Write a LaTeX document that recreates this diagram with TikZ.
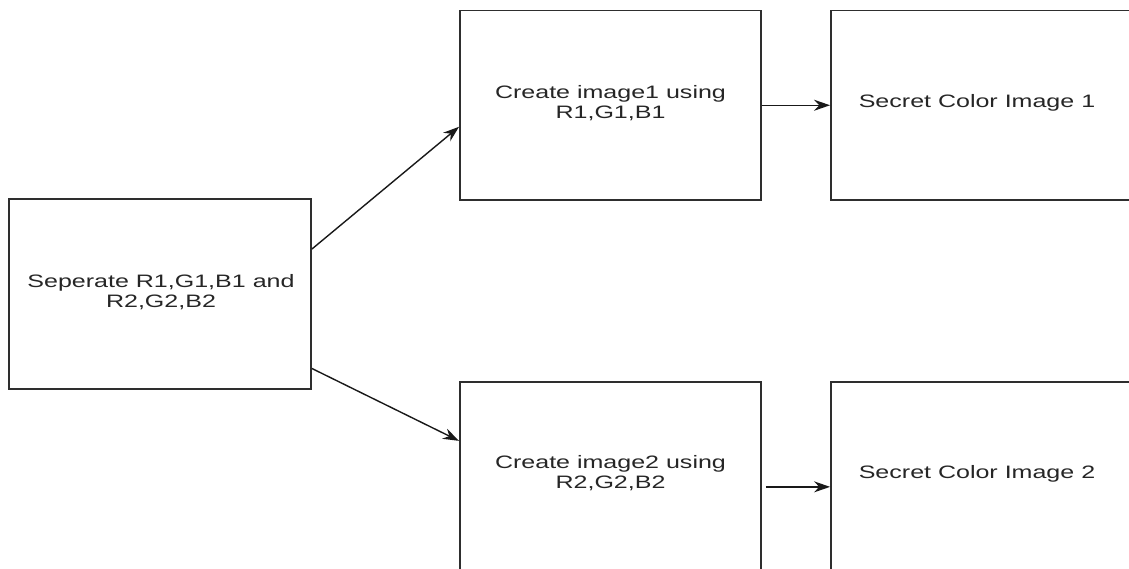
\documentclass[tikz,border=0pt]{standalone}
\usepackage{fontspec}
\setmainfont{Liberation Sans}
\newfontfamily\boxfont[FakeStretch=1.39]{Liberation Sans}
\usetikzlibrary{arrows.meta}
\definecolor{edgegray}{HTML}{2E2E2E}
\definecolor{txtgray}{HTML}{262626}
\tikzset{
  stagebox/.style={draw=edgegray, line width=1.9pt, rectangle, inner sep=0pt},
  stagetext/.style={font=\boxfont\fontsize{18pt}{20pt}\selectfont, text=txtgray, align=center, inner sep=0pt},
  flow/.style={draw=black!90, line width=1.4pt, -{Stealth[length=16pt,width=11pt]}}
}
\begin{document}
\begin{tikzpicture}[x=1pt,y=-1pt]
\useasboundingbox (0,0) rectangle (1129,568);
\clip (0,0) rectangle (1129,568);
\fill[white] (0,0) rectangle (1129,568);

% stage boxes (the right-hand and lower ones run past the page edge)
\node[stagebox, minimum width=302pt, minimum height=190pt]   (sep)  at (160,294)     {};
\node[stagebox, minimum width=301pt, minimum height=189.5pt] (img1) at (610.5,105.25) {};
\node[stagebox, minimum width=309pt, minimum height=189.5pt] (sec1) at (985.5,105.25) {};
\node[stagebox, minimum width=301pt, minimum height=218pt]   (img2) at (610.5,490.85) {};
\node[stagebox, minimum width=309pt, minimum height=218pt]   (sec2) at (985.5,490.85) {};

% captions
\node[stagetext] (tsep)  at (161,292) {Seperate R1,G1,B1 and\\R2,G2,B2};
\node[stagetext] (timg1) at (610.5,103) {Create image1 using\\R1,G1,B1};
\node[stagetext] (tsec1) at (977,103) {Secret Color Image 1};
\node[stagetext] (timg2) at (610.5,473) {Create image2 using\\R2,G2,B2};
\node[stagetext] (tsec2) at (977,474) {Secret Color Image 2};

% connectors
\draw[flow] ([yshift=45pt]sep.east) -- ([yshift=-21.5pt]img1.west);
\draw[flow] ([yshift=-74.5pt]sep.east) -- ([yshift=50pt]img2.west);
\draw[flow] (img1.east) -- (sec1.west);
\draw[flow, shorten <=4pt] ([yshift=4pt]img2.east) -- ([yshift=4pt]sec2.west);
\end{tikzpicture}
\end{document}
